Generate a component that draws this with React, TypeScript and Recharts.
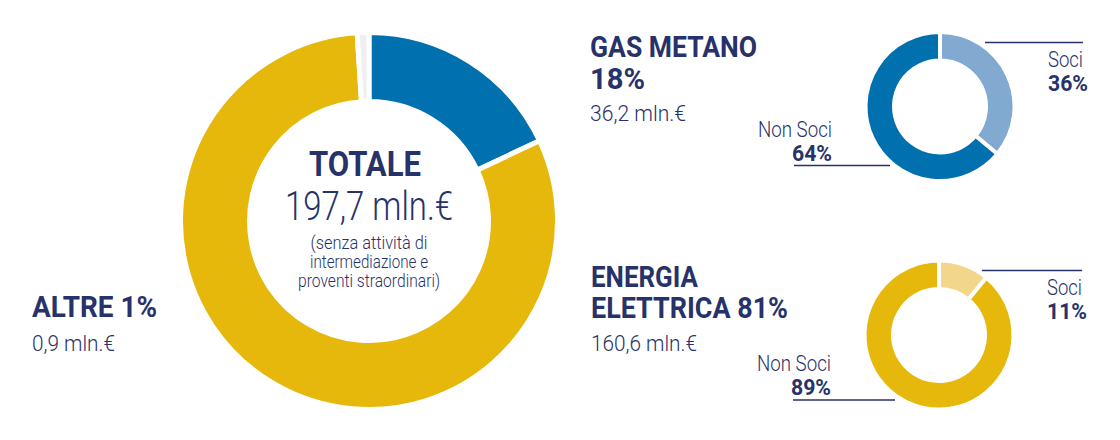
import React from 'react';
import { PieChart, Pie, Cell, Customized } from 'recharts';

const FONT = "Roboto, 'Liberation Sans', sans-serif";
const NAVY = '#27326A';

// Main breakdown
const mainCategories = ['GAS METANO', 'ENERGIA ELETTRICA', 'ALTRE'];
const mainPercents = [18, 81, 1];
const mainValues = [36.2, 160.6, 0.9];
const totalValue = 197.7;
const mainColors = ['#0071AE', '#E6B80B', '#EFEFEF'];

// Soci / Non Soci splits
const splitCategories = ['Soci', 'Non Soci'];
const gasSplit = [36, 64];
const energiaSplit = [11, 89];
const gasColors = ['#82A9D0', '#0071AE'];
const energiaColors = ['#F2D68B', '#E6B80B'];

const noteLines = ['(senza attività di', 'intermediazione e', 'proventi straordinari)'];

const mainData = mainCategories.map((name, i) => ({ name, value: mainPercents[i] }));
const gasData = splitCategories.map((name, i) => ({ name, value: gasSplit[i] }));
const energiaData = splitCategories.map((name, i) => ({ name, value: energiaSplit[i] }));

const fmt = (v: number) => v.toFixed(1).replace('.', ',') + ' mln.€';

type TProps = {
  x: number;
  y: number;
  w?: number;
  size: number;
  bold?: boolean;
  anchor?: 'start' | 'middle' | 'end';
  children: React.ReactNode;
};

const T = ({ x, y, w, size, bold, anchor = 'start', children }: TProps) => (
  <text
    x={x}
    y={y}
    fill={NAVY}
    fontFamily={FONT}
    fontSize={size}
    fontWeight={bold ? 700 : 300}
    textAnchor={anchor}
    textLength={w}
    lengthAdjust={w ? 'spacingAndGlyphs' : undefined}
  >
    {children}
  </text>
);

const makeSplitLabel = (nsShift: number, nsLineDy: number, nsLineEnd: number, sLineStart: number, sLineDy: number) => (props: any) => {
  const { cx, cy, index, name, value } = props;
  if (index === 0) {
    return (
      <g>
        <line x1={cx + sLineStart} x2={cx + 143} y1={cy + sLineDy} y2={cy + sLineDy} stroke={NAVY} strokeWidth={1.5} />
        <T x={cx + 108} y={cy - 40} size={22} w={35}>{name}</T>
        <T x={cx + 108} y={cy - 16} size={22} w={40} bold>{value}%</T>
      </g>
    );
  }
  return (
    <g>
      <line x1={cx - 146} x2={cx - nsLineEnd} y1={cy + nsLineDy} y2={cy + nsLineDy} stroke={NAVY} strokeWidth={1.5} />
      <T x={cx - 108} y={cy + 30 + nsShift} size={22} w={74} anchor="end">{name}</T>
      <T x={cx - 108} y={cy + 54 + nsShift} size={22} w={40} bold anchor="end">{value}%</T>
    </g>
  );
};

const Overlay = () => {
  const cx = 369;
  const cy = 221;
  return (
    <g>
      <T x={cx - 4} y={cy - 45} size={35} w={112} bold anchor="middle">TOTALE</T>
      <T x={cx} y={cy - 1} size={41} w={168} anchor="middle">{fmt(totalValue)}</T>
      {noteLines.map((l, i) => (
        <T key={i} x={cx} y={cy + 28 + i * 19} size={18} w={[117, 118, 142][i]} anchor="middle">{l}</T>
      ))}

      <T x={590} y={57} size={30} w={167} bold>{mainCategories[0]}</T>
      <T x={590} y={89} size={30} w={55} bold>{mainPercents[0]}%</T>
      <T x={590} y={121} size={22} w={96}>{fmt(mainValues[0])}</T>

      <T x={591} y={287} size={30} w={107} bold>ENERGIA</T>
      <T x={591} y={318} size={30} w={197} bold>ELETTRICA {mainPercents[1]}%</T>
      <T x={591} y={351} size={22} w={106}>{fmt(mainValues[1])}</T>

      <T x={32} y={317} size={30} w={125} bold>{mainCategories[2]} {mainPercents[2]}%</T>
      <T x={32} y={351} size={22} w={83}>{fmt(mainValues[2])}</T>
    </g>
  );
};

export default function App() {
  return (
    <div style={{ width: 1120, height: 440, background: '#fff' }}>
      <style>{`body{margin:0}`}</style>
      <PieChart width={1120} height={440} margin={{ top: 0, right: 0, bottom: 0, left: 0 }}>
        <Pie
          data={mainData}
          dataKey="value"
          nameKey="name"
          cx={369}
          cy={221}
          innerRadius={119.5}
          outerRadius={188.5}
          startAngle={90}
          endAngle={-270}
          stroke="#fff"
          strokeWidth={5}
          isAnimationActive={false}
        >
          {mainData.map((d, i) => (
            <Cell key={d.name} fill={mainColors[i]} />
          ))}
        </Pie>
        <Pie
          data={gasData}
          dataKey="value"
          nameKey="name"
          cx={940}
          cy={106.5}
          innerRadius={46}
          outerRadius={74.5}
          startAngle={90}
          endAngle={-270}
          stroke="#fff"
          strokeWidth={4}
          isAnimationActive={false}
          labelLine={false}
          label={makeSplitLabel(0, 59, 50, 45, -64)}
        >
          {gasData.map((d, i) => (
            <Cell key={d.name} fill={gasColors[i]} />
          ))}
        </Pie>
        <Pie
          data={energiaData}
          dataKey="value"
          nameKey="name"
          cx={939}
          cy={335}
          innerRadius={46}
          outerRadius={74.5}
          startAngle={90}
          endAngle={-270}
          stroke="#fff"
          strokeWidth={4}
          isAnimationActive={false}
          labelLine={false}
          label={makeSplitLabel(5.5, 65, 44, 43, -64.5)}
        >
          {energiaData.map((d, i) => (
            <Cell key={d.name} fill={energiaColors[i]} />
          ))}
        </Pie>
        <Customized component={Overlay} />
      </PieChart>
    </div>
  );
}
